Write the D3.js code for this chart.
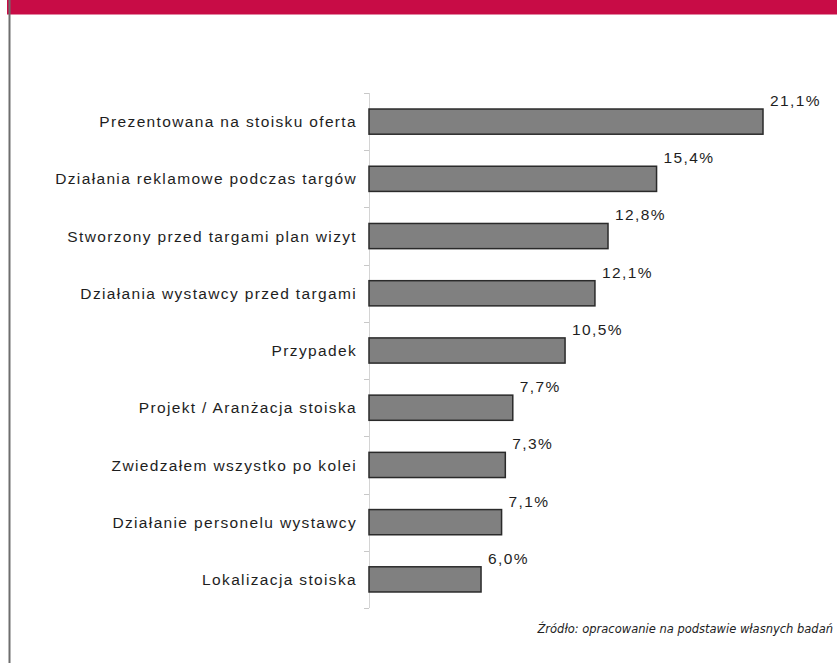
<!DOCTYPE html>
<html>
<head>
<meta charset="utf-8">
<script src="https://cdn.jsdelivr.net/npm/d3@7"></script>
<style>
  html, body { margin: 0; padding: 0; background: #ffffff; }
  svg { display: block; }
</style>
</head>
<body>
<svg id="chart" width="837" height="663"></svg>
<script>
// Categories, top to bottom
const categories = [
  "Prezentowana na stoisku oferta",
  "Działania reklamowe podczas targów",
  "Stworzony przed targami plan wizyt",
  "Działania wystawcy przed targami",
  "Przypadek ",
  "Projekt / Aranżacja stoiska",
  "Zwiedzałem wszystko po kolei",
  "Działanie personelu wystawcy",
  "Lokalizacja stoiska"
];
// Share of answers (%)
const values = [21.1, 15.4, 12.8, 12.1, 10.5, 7.7, 7.3, 7.1, 6.0];
const valueLabels = ["21,1%", "15,4%", "12,8%", "12,1%", "10,5%", "7,7%", "7,3%", "7,1%", "6,0%"];
const sourceNote = "Źródło: opracowanie na podstawie własnych badań";

const svg = d3.select("#chart");
const W = 837, H = 663;

// header band and left frame line
svg.append("rect").attr("x", 7).attr("y", 0).attr("width", W - 7).attr("height", 14.5)
  .attr("fill", "#c80c46");
svg.append("rect").attr("x", 8.5).attr("y", 0).attr("width", 2).attr("height", H)
  .attr("fill", "#6e6e6e");

const plot = { left: 369, top: 93, bottom: 608 };

const x = d3.scaleLinear().domain([0, 21.1]).range([plot.left, plot.left + 394]);
const y = d3.scaleBand().domain(categories).range([plot.top, plot.bottom]).paddingInner(0.56).paddingOuter(0.28);

// category axis line with ticks between bands
const axisG = svg.append("g");
axisG.append("line")
  .attr("x1", plot.left + 0.5).attr("x2", plot.left + 0.5)
  .attr("y1", plot.top).attr("y2", plot.bottom)
  .attr("stroke", "#d4d4d4").attr("stroke-width", 1);
const tickYs = d3.range(categories.length + 1).map(i => plot.top + i * (plot.bottom - plot.top) / categories.length);
axisG.selectAll("line.tick").data(tickYs).join("line")
  .attr("class", "tick")
  .attr("x1", plot.left - 5).attr("x2", plot.left)
  .attr("y1", d => Math.round(d) + 0.5).attr("y2", d => Math.round(d) + 0.5)
  .attr("stroke", "#c8c8c8").attr("stroke-width", 1);

// category labels
svg.append("g").selectAll("text").data(categories).join("text")
  .attr("x", 357)
  .attr("y", d => y(d) + y.bandwidth() / 2)
  .attr("dy", "0.36em")
  .attr("text-anchor", "end")
  .attr("font-family", "Liberation Sans, Arial, sans-serif")
  .attr("font-size", 15.5)
  .attr("letter-spacing", 1.35)
  .attr("fill", "#1e1e1e")
  .text(d => d);

// bars
svg.append("g").selectAll("rect").data(values).join("rect")
  .attr("x", x(0))
  .attr("y", (d, i) => y(categories[i]))
  .attr("width", d => x(d) - x(0))
  .attr("height", y.bandwidth())
  .attr("fill", "#808080")
  .attr("stroke", "#2a2a2a")
  .attr("stroke-width", 1.5);

// value labels above the bar ends
svg.append("g").selectAll("text").data(values).join("text")
  .attr("x", d => x(d) + 7)
  .attr("y", (d, i) => y(categories[i]) - 3)
  .attr("font-family", "Liberation Sans, Arial, sans-serif")
  .attr("font-size", 15.5)
  .attr("letter-spacing", 1.4)
  .attr("fill", "#1e1e1e")
  .text((d, i) => valueLabels[i]);

// source note
svg.append("text")
  .attr("x", 833).attr("y", 633)
  .attr("text-anchor", "end")
  .attr("font-family", "DejaVu Sans, sans-serif")
  .attr("font-style", "italic")
  .attr("font-size", 11.5)
  .attr("fill", "#222")
  .text(sourceNote);
</script>
</body>
</html>
